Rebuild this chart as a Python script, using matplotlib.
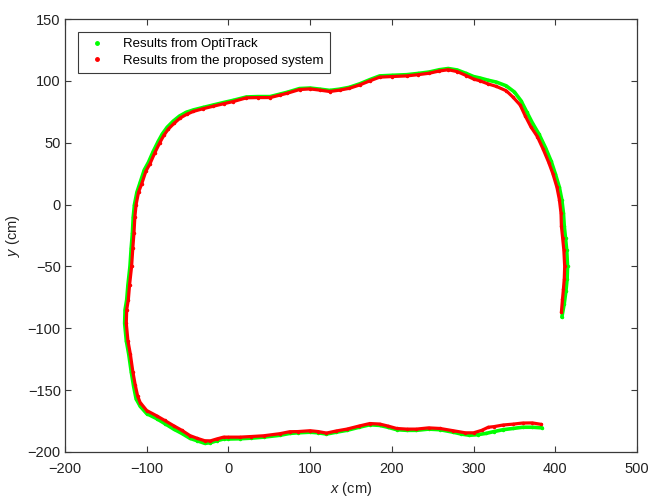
import matplotlib

matplotlib.use("Agg")
import matplotlib.pyplot as plt
from matplotlib.lines import Line2D

plt.rcParams["font.family"] = ["Liberation Sans", "DejaVu Sans"]
plt.rcParams["mathtext.fontset"] = "custom"
plt.rcParams["mathtext.rm"] = "Liberation Sans"
plt.rcParams["mathtext.it"] = "Liberation Sans:italic"

# Trajectory from the motion capture reference (cm)
optitrack_x = [
    384, 372, 360, 348, 336, 325, 315, 305, 295, 285, 275, 259, 245, 230, 218,
    206, 195, 185, 173, 160, 145, 132, 120, 110, 100, 85, 75, 63, 43, 28, 14,
    0, -6, -14.5, -22, -29, -38, -47, -57, -67, -78, -88, -100, -108, -113,
    -116, -119, -122, -125, -127, -126.5, -124.5, -123, -120.5, -119, -117.5,
    -116.5, -115, -112, -108, -103, -98, -92, -86, -81, -75, -67.5, -60, -52,
    -43, -31, -18.6, -6, 6, 22, 36, 51, 63, 72, 87, 100, 112, 124, 136, 148,
    161, 173, 185, 200, 218, 232, 246, 258, 269, 280, 291, 300, 308, 318, 328,
    340, 350, 358, 365, 372, 380, 388, 395, 400, 405, 408, 410, 411, 412.5,
    414, 415, 414.5, 413, 411, 408,
]
optitrack_y = [
    -180.5, -180, -180, -181, -182, -183.5, -185, -186, -186.5, -185.5, -184,
    -182, -181.5, -182.5, -182.5, -182, -180, -178.5, -178, -180, -182.5, -184,
    -185.5, -184.5, -184, -184.5, -185, -186.5, -188, -188.8, -189.3, -189.5,
    -189.5, -191, -192.5, -193, -191, -189, -185, -181.5, -177, -173, -169,
    -163, -157, -147, -135, -121, -110, -96, -85, -77, -65, -50, -35, -23, -10,
    0, 10, 18, 28, 34, 43, 51, 57, 62.5, 67.5, 71.5, 74.5, 76.5, 78.5, 80.5,
    82.5, 84.3, 87, 87.3, 87.3, 89.3, 90.8, 93.8, 94.2, 93.3, 92.3, 93.3, 94.8,
    97.7, 101, 104, 104.5, 105, 106, 107.2, 109, 110, 108.8, 106, 103.5, 102.3,
    100.5, 99, 96, 91, 84, 75, 66, 57, 46, 35, 25, 14, 4, -7, -17.5, -27, -37,
    -50, -60, -70, -80, -91,
]

# Same trajectory estimated by the proposed system (cm)
proposed_x = [
    383, 372, 360, 348, 336, 325, 318, 310, 300, 290, 275, 259, 245, 230, 218,
    206, 195, 185, 173, 160, 145, 132, 120, 110, 100, 85, 75, 63, 43, 28, 14,
    0, -6, -14.5, -22, -29, -38, -47, -57, -67, -78, -88, -100, -108, -111,
    -114, -117, -120, -123, -125, -124.5, -122.5, -121, -118.5, -117, -115.6,
    -114.5, -113, -110, -106, -101, -96, -90, -84, -79, -73.6, -66, -59, -51,
    -43, -31, -18.6, -6, 6, 22, 36, 51, 63, 72, 87, 100, 112, 124, 136, 148,
    161, 173, 185, 200, 218, 232, 246, 258, 269, 280, 291, 300, 308, 318, 328,
    340, 348, 357, 363, 370, 378, 385, 392, 397, 402, 405, 407, 407.5, 409,
    410.5, 411.5, 411, 410, 408.8, 407.5,
]
proposed_y = [
    -177.7, -176.5, -176.6, -177.5, -178.2, -179.5, -180, -182.5, -184.5,
    -184.5, -182.8, -181, -180.5, -181.5, -181.5, -181, -179, -177.4, -177,
    -179, -181.5, -183, -184.7, -183.5, -182.8, -183.5, -183.6, -185.2, -186.9,
    -187.5, -188, -188, -188, -189.5, -191, -190.9, -189, -186.8, -182.5,
    -178.8, -174.5, -170.7, -166.5, -160, -155, -146, -135, -121, -110, -96,
    -85, -77, -65, -50, -35, -23, -10, 0, 10, 17, 27, 33, 42, 50, 56, 61, 66,
    70, 73, 75.3, 77.5, 79.5, 81.5, 83.3, 86.3, 86.5, 86.5, 88.5, 90, 93, 93.5,
    92.5, 91.4, 92.5, 94, 96.8, 100, 103, 103.5, 104, 105, 106.2, 108, 109,
    107.5, 104.3, 101.5, 100, 97.5, 95.5, 92, 87, 80.5, 72, 63, 55, 45, 34, 25,
    14, 4, -7, -17.5, -27, -37, -50, -60, -68, -76.6, -87,
]

x_ticks = [-200, -100, 0, 100, 200, 300, 400, 500]
y_ticks = [-200, -150, -100, -50, 0, 50, 100, 150]

GREEN = "#00ff00"
RED = "#ff0000"
AXIS_GRAY = "#3a3a3a"
TEXT = "#222222"

fig = plt.figure(figsize=(6.5, 4.98), dpi=100)
ax = fig.add_axes([0.100, 0.0924, 0.880, 0.8694])

ax.plot(optitrack_x, optitrack_y, color=GREEN, lw=2.6, marker=".",
        ms=3, solid_capstyle="round", zorder=2)
ax.plot(proposed_x, proposed_y, color=RED, lw=2.3, marker=".",
        ms=3, solid_capstyle="round", zorder=3)

ax.set_xlim(-200, 500)
ax.set_ylim(-200, 150)
ax.set_xticks(x_ticks)
ax.set_yticks(y_ticks)

ax.tick_params(direction="in", length=4, width=0.8, top=True, right=True,
               labelsize=10.5, colors=AXIS_GRAY, labelcolor=TEXT)
ax.tick_params(axis="x", pad=7)
ax.tick_params(axis="y", pad=3)
for spine in ax.spines.values():
    spine.set_color(AXIS_GRAY)
    spine.set_linewidth(0.9)

ax.set_xlabel("$x$ (cm)", fontsize=10.5, color=TEXT, labelpad=3)
ax.set_ylabel("$y$ (cm)", fontsize=10.5, color=TEXT, labelpad=4)

handles = [
    Line2D([], [], color=GREEN, marker=".", ls="none", ms=5),
    Line2D([], [], color=RED, marker=".", ls="none", ms=5),
]
leg = ax.legend(handles, ["Results from OptiTrack", "Results from the proposed system"],
                loc="upper left", bbox_to_anchor=(0.022, 0.97), fontsize=9.5,
                fancybox=False, framealpha=1, edgecolor=AXIS_GRAY,
                handlelength=2.0, handletextpad=1.0, borderpad=0.45,
                labelspacing=0.35, borderaxespad=0)
leg.get_frame().set_linewidth(0.8)

fig.savefig("out.png", dpi=100)
